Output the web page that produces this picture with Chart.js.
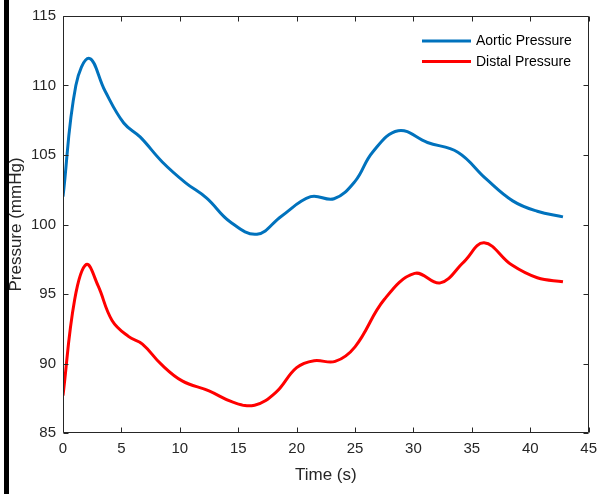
<!DOCTYPE html>
<html>
<head>
<meta charset="utf-8">
<script src="https://cdn.jsdelivr.net/npm/chart.js@4/dist/chart.umd.min.js"></script>
<style>
  html, body { margin: 0; padding: 0; background: #fff; }
  #wrap { width: 604px; height: 494px; }
</style>
</head>
<body>
<div id="wrap"><canvas id="chart"></canvas></div>
<script>
// aortic pressure (time in s, pressure in mmHg)
const aorticTimes = [0, 1.1, 2.25, 3.6, 5.2, 6.6, 8.5, 10.5, 12.3, 14.3, 16.6, 18.7,
  21.2, 23.2, 25.0, 26.5, 28.7, 31.2, 33.8, 36.2, 38.5, 40.6, 42.8];
const aorticValues = [102.0, 110.0, 111.95, 109.6, 107.3, 106.3, 104.5, 103.0, 101.9, 100.2, 99.3, 100.6,
  102.0, 101.85, 103.1, 105.2, 106.75, 105.9, 105.2, 103.3, 101.7, 100.95, 100.55];

// distal pressure
const distalTimes = [0, 1.0, 2.0, 3.0, 4.2, 5.6, 6.8, 8.4, 10.2, 12.5, 14.6, 16.4, 18.2,
  20, 21.5, 23.3, 25.0, 27.5, 30.1, 32.3, 34.3, 36.05, 38.4, 40.6, 42.8];
const distalValues = [87.7, 94.6, 97.13, 95.6, 93.1, 91.95, 91.4, 89.95, 88.75, 88.03, 87.2, 87.0, 87.9,
  89.7, 90.2, 90.15, 91.2, 94.6, 96.48, 95.8, 97.3, 98.68, 97.1, 96.17, 95.88];

const seriesNames = ['Aortic Pressure', 'Distal Pressure'];
const seriesColors = ['#0072BD', '#FF0000'];

const axisColor = '#262626';
const fontFamily = '"Liberation Sans", Arial, Helvetica, sans-serif';

const toPoints = (ts, vals) => vals.map((v, i) => ({ x: ts[i], y: v }));

// matlab-like box, inward ticks, legend, and the black bar on the left
const framePlugin = {
  id: 'frame',
  beforeDraw(chart) {
    const ctx = chart.ctx;
    ctx.save();
    ctx.fillStyle = '#fff';
    ctx.fillRect(0, 0, chart.width, chart.height);
    ctx.fillStyle = '#000';
    ctx.fillRect(4, 0, 5, chart.height);
    ctx.restore();
  },
  afterDatasetsDraw(chart) {
    const { ctx, chartArea: a, scales } = chart;
    const L = Math.round(a.left) + 0.5, R = Math.round(a.right) - 0.5;
    const T = Math.round(a.top) + 0.5, B = Math.round(a.bottom) - 0.5;
    const tl = 5;
    ctx.save();
    ctx.strokeStyle = axisColor;
    ctx.lineWidth = 1;
    ctx.beginPath();
    ctx.rect(L, T, R - L, B - T);
    scales.x.ticks.forEach((t) => {
      const px = Math.round(scales.x.getPixelForValue(t.value)) + 0.5;
      ctx.moveTo(px, B); ctx.lineTo(px, B - tl);
      ctx.moveTo(px, T); ctx.lineTo(px, T + tl);
    });
    scales.y.ticks.forEach((t) => {
      const py = Math.round(scales.y.getPixelForValue(t.value)) + 0.5;
      ctx.moveTo(L, py); ctx.lineTo(L + tl, py);
      ctx.moveTo(R, py); ctx.lineTo(R - tl, py);
    });
    ctx.stroke();

    // legend
    ctx.font = '14px ' + fontFamily;
    ctx.textBaseline = 'middle';
    ctx.textAlign = 'left';
    chart.data.datasets.forEach((ds, i) => {
      const ly = 41 + i * 20.5;
      ctx.strokeStyle = ds.borderColor;
      ctx.lineWidth = 3;
      ctx.beginPath();
      ctx.moveTo(422, ly);
      ctx.lineTo(471, ly);
      ctx.stroke();
      ctx.fillStyle = '#000';
      ctx.fillText(ds.label, 476, ly + 0.5);
    });
    ctx.restore();
  }
};

const lineStyle = {
  borderWidth: 3,
  pointRadius: 0,
  tension: 0.4,
  fill: false,
};

new Chart(document.getElementById('chart'), {
  type: 'line',
  data: {
    datasets: [
      {
        label: seriesNames[0],
        data: toPoints(aorticTimes, aorticValues),
        borderColor: seriesColors[0],
        backgroundColor: seriesColors[0],
        ...lineStyle,
      },
      {
        label: seriesNames[1],
        data: toPoints(distalTimes, distalValues),
        borderColor: seriesColors[1],
        backgroundColor: seriesColors[1],
        ...lineStyle,
      },
    ],
  },
  options: {
    responsive: true,
    maintainAspectRatio: false,
    animation: false,
    layout: { padding: { top: 16, right: 11, left: 0, bottom: 0 } },
    plugins: {
      legend: { display: false },
      tooltip: { enabled: false },
    },
    scales: {
      x: {
        type: 'linear',
        min: 0,
        max: 45,
        grid: { display: false, drawTicks: false },
        border: { display: false },
        ticks: {
          stepSize: 5,
          padding: 7,
          color: axisColor,
          font: { family: fontFamily, size: 15 },
          maxRotation: 0,
        },
        title: {
          display: true,
          text: 'Time (s)',
          color: axisColor,
          font: { family: fontFamily, size: 17 },
          padding: { top: 0, bottom: 8 },
        },
        afterFit: (scale) => { scale.height = 61; },
      },
      y: {
        min: 85,
        max: 115,
        grid: { display: false, drawTicks: false },
        border: { display: false },
        ticks: {
          stepSize: 5,
          padding: 7,
          color: axisColor,
          font: { family: fontFamily, size: 15 },
        },
        title: {
          display: true,
          text: 'Pressure (mmHg)',
          color: axisColor,
          font: { family: fontFamily, size: 17 },
          padding: { top: 6, bottom: 0 },
        },
        afterFit: (scale) => { scale.width = 63; },
      },
    },
  },
  plugins: [framePlugin],
});
</script>
</body>
</html>
